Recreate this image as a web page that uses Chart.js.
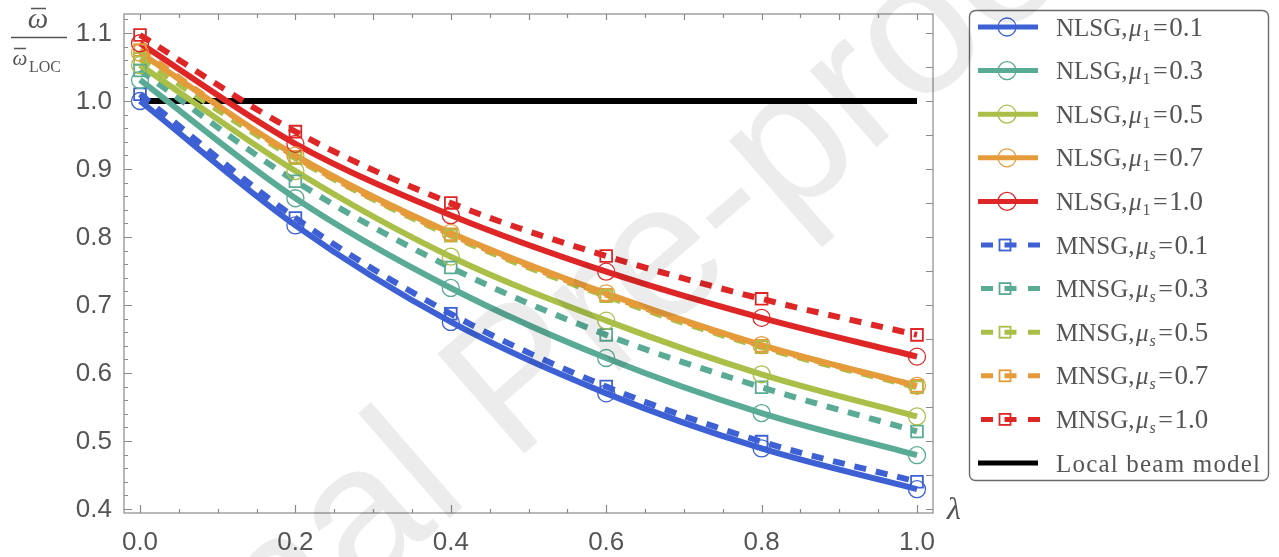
<!DOCTYPE html>
<html>
<head>
<meta charset="utf-8">
<title>Frequency ratio vs lambda</title>
<script src="https://cdn.jsdelivr.net/npm/chart.js@4.4.1/dist/chart.umd.min.js"></script>
<style>
  html, body { margin: 0; padding: 0; background: #fff; }
  #wrap { width: 1279px; height: 557px; position: relative; }
</style>
</head>
<body>
<div id="wrap"><canvas id="chart"></canvas></div>
<script>
// lambda values where the markers sit
const lambdaValues = [0, 0.2, 0.4, 0.6, 0.8, 1.0];

// NLSG, mu_1 = 0.1 .. 1.0 (solid lines, circles)
const nlsg01 = [1.000, 0.817, 0.675, 0.570, 0.489, 0.429];
const nlsg03 = [1.031, 0.857, 0.725, 0.622, 0.541, 0.479];
const nlsg05 = [1.053, 0.897, 0.771, 0.677, 0.598, 0.536];
const nlsg07 = [1.071, 0.920, 0.806, 0.717, 0.641, 0.581];
const nlsg10 = [1.085, 0.937, 0.832, 0.749, 0.681, 0.624];

// MNSG, mu_s = 0.1 .. 1.0 (dashed lines, squares)
const mnsg01 = [1.010, 0.828, 0.687, 0.580, 0.499, 0.440];
const mnsg03 = [1.045, 0.882, 0.755, 0.656, 0.579, 0.514];
const mnsg05 = [1.062, 0.916, 0.802, 0.713, 0.638, 0.579];
const mnsg07 = [1.075, 0.918, 0.804, 0.715, 0.640, 0.581];
const mnsg10 = [1.097, 0.955, 0.850, 0.772, 0.709, 0.656];

// local beam model
const localX = [0, 1];
const localY = [1, 1];

const muValues = ['0.1', '0.3', '0.5', '0.7', '1.0'];
const seriesColors = ['#3d60d4', '#5aab95', '#a9bf48', '#e69b3b', '#df2626'];

const xTicks = [0, 0.2, 0.4, 0.6, 0.8, 1.0];
const yTicks = [0.4, 0.5, 0.6, 0.7, 0.8, 0.9, 1.0, 1.1];

const nlsgSets = [nlsg01, nlsg03, nlsg05, nlsg07, nlsg10];
const mnsgSets = [mnsg01, mnsg03, mnsg05, mnsg07, mnsg10];

const TEXT_GREY = '#555';
const FRAME_GREY = '#8a8a8a';
const SERIF = '"Liberation Serif", "Times New Roman", serif';
const SANS = '"Liberation Sans", Arial, sans-serif';

function toPoints(xs, ys) {
  return xs.map((x, i) => ({ x, y: ys[i] }));
}

const datasets = [];

// markers first so they end up on top of every line
nlsgSets.forEach((ys, i) => {
  datasets.push({
    label: 'NLSG mu1=' + muValues[i] + ' markers',
    data: toPoints(lambdaValues, ys),
    showLine: false,
    pointStyle: 'circle',
    pointRadius: 8.5,
    pointBorderWidth: 1.3,
    pointBorderColor: seriesColors[i],
    pointBackgroundColor: 'rgba(0,0,0,0)'
  });
});
mnsgSets.forEach((ys, i) => {
  datasets.push({
    label: 'MNSG mus=' + muValues[i] + ' markers',
    data: toPoints(lambdaValues, ys),
    showLine: false,
    pointStyle: 'rect',
    pointRadius: 8.3,
    pointBorderWidth: 1.8,
    pointBorderColor: seriesColors[i],
    pointBackgroundColor: 'rgba(0,0,0,0)'
  });
});

// solid curves
nlsgSets.slice().reverse().forEach((ys, k) => {
  const i = nlsgSets.length - 1 - k;
  datasets.push({
    label: 'NLSG mu1=' + muValues[i],
    data: toPoints(lambdaValues, ys),
    showLine: true,
    borderColor: seriesColors[i],
    borderWidth: 6,
    pointRadius: 0,
    cubicInterpolationMode: 'monotone'
  });
});

// dashed curves
mnsgSets.slice().reverse().forEach((ys, k) => {
  const i = mnsgSets.length - 1 - k;
  datasets.push({
    label: 'MNSG mus=' + muValues[i],
    data: toPoints(lambdaValues, ys),
    showLine: true,
    borderColor: seriesColors[i],
    borderWidth: 6,
    borderDash: [12, 10],
    pointRadius: 0,
    cubicInterpolationMode: 'monotone'
  });
});

datasets.push({
  label: 'Local beam model',
  data: toPoints(localX, localY),
  showLine: true,
  borderColor: '#000',
  borderWidth: 6,
  pointRadius: 0
});

// frame, inward tick marks and tick labels, like the Mathematica frame
const framePlugin = {
  id: 'frame',
  afterDatasetsDraw(chart) {
    const { ctx, chartArea: a, scales: { x, y } } = chart;
    ctx.save();
    ctx.strokeStyle = FRAME_GREY;
    ctx.lineWidth = 1.2;
    ctx.strokeRect(a.left, a.top, a.right - a.left, a.bottom - a.top);

    ctx.beginPath();
    // left: major 0.1, minor 0.02
    for (let v = 0.4; v <= 1.1201; v += 0.02) {
      const py = Math.round(y.getPixelForValue(v)) + 0.5;
      const major = yTicks.some(t => Math.abs(t - v) < 1e-6);
      ctx.moveTo(a.left, py);
      ctx.lineTo(a.left + (major ? 8 : 4), py);
    }
    // right: every 0.05
    for (let v = 0.4; v <= 1.1201; v += 0.05) {
      const py = Math.round(y.getPixelForValue(v)) + 0.5;
      ctx.moveTo(a.right, py);
      ctx.lineTo(a.right - 7, py);
    }
    // bottom: major 0.2, minor 0.05
    for (let v = 0; v <= 1.0001; v += 0.05) {
      const px = Math.round(x.getPixelForValue(v)) + 0.5;
      const major = xTicks.some(t => Math.abs(t - v) < 1e-6);
      ctx.moveTo(px, a.bottom);
      ctx.lineTo(px, a.bottom - (major ? 8 : 4));
    }
    // top: every 0.05
    for (let v = 0; v <= 1.0001; v += 0.05) {
      const px = Math.round(x.getPixelForValue(v)) + 0.5;
      const major = Math.abs(Math.round(v * 10) - v * 10) < 1e-6;
      ctx.moveTo(px, a.top);
      ctx.lineTo(px, a.top + (major ? 6 : 4));
    }
    ctx.stroke();

    // tick labels
    ctx.fillStyle = TEXT_GREY;
    ctx.font = '26px ' + SANS;
    ctx.textBaseline = 'middle';
    ctx.textAlign = 'right';
    yTicks.forEach(v => ctx.fillText(v.toFixed(1), a.left - 12, y.getPixelForValue(v) + 1));
    ctx.textAlign = 'center';
    xTicks.forEach(v => ctx.fillText(v.toFixed(1), x.getPixelForValue(v), a.bottom + 30));
    ctx.restore();
  }
};

// y title (fraction) and lambda label
const titlePlugin = {
  id: 'titles',
  afterDraw(chart) {
    const ctx = chart.ctx;
    ctx.save();
    ctx.fillStyle = TEXT_GREY;
    ctx.strokeStyle = TEXT_GREY;
    ctx.lineWidth = 1.3;
    ctx.textBaseline = 'alphabetic';

    ctx.textAlign = 'center';
    ctx.font = 'italic 29px ' + SERIF;
    ctx.fillText('ω', 38, 28);
    ctx.beginPath();
    ctx.moveTo(31, 8.5); ctx.lineTo(46, 8.5);
    ctx.moveTo(11, 37.5); ctx.lineTo(67, 37.5);
    ctx.moveTo(14, 48.5); ctx.lineTo(26, 48.5);
    ctx.stroke();

    ctx.font = 'italic 21px ' + SERIF;
    ctx.fillText('ω', 20, 65);
    ctx.textAlign = 'left';
    ctx.font = '16px ' + SERIF;
    ctx.fillText('LOC', 29, 72);

    ctx.textAlign = 'center';
    ctx.font = 'italic 32px ' + SERIF;
    ctx.fillText('λ', 954, 519);
    ctx.restore();
  }
};

// legend box drawn by hand (needs sub-scripts)
const legendPlugin = {
  id: 'handLegend',
  afterDraw(chart) {
    const ctx = chart.ctx;
    ctx.save();
    ctx.strokeStyle = '#6a6a6a';
    ctx.lineWidth = 1.4;
    ctx.beginPath();
    ctx.roundRect(969.5, 10.5, 299, 470, 6);
    ctx.stroke();

    const rowY = i => 27 + i * 43.6;
    const textX = 1056;

    function label(y, prefix, sub, subItalic, value) {
      let x = textX;
      ctx.fillStyle = TEXT_GREY;
      ctx.textAlign = 'left';
      ctx.textBaseline = 'alphabetic';
      const base = y + 8.5;
      ctx.font = '25px ' + SERIF;
      ctx.fillText(prefix, x, base);
      x += ctx.measureText(prefix).width + 1.5;
      ctx.font = 'italic 25px ' + SERIF;
      ctx.fillText('μ', x, base);
      x += ctx.measureText('μ').width + 1;
      ctx.font = (subItalic ? 'italic ' : '') + '16px ' + SERIF;
      ctx.fillText(sub, x, base + 5);
      x += ctx.measureText(sub).width + 2.5;
      ctx.font = '26px ' + SERIF;
      ctx.fillText('=', x, base);
      x += ctx.measureText('=').width + 1.5;
      ctx.font = '27px ' + SERIF;
      ctx.fillText(value, x, base);
    }

    muValues.forEach((mu, i) => {
      const y = rowY(i);
      ctx.strokeStyle = seriesColors[i];
      ctx.lineWidth = 5;
      ctx.setLineDash([]);
      ctx.beginPath();
      ctx.moveTo(978, y); ctx.lineTo(1038, y);
      ctx.stroke();
      ctx.lineWidth = 1.3;
      ctx.beginPath();
      ctx.arc(1007, y, 9, 0, Math.PI * 2);
      ctx.stroke();
      label(y, 'NLSG,', '1', false, mu);
    });

    muValues.forEach((mu, i) => {
      const y = rowY(i + 5);
      ctx.strokeStyle = seriesColors[i];
      ctx.lineWidth = 5;
      ctx.setLineDash([12, 11.5]);
      ctx.beginPath();
      ctx.moveTo(981, y); ctx.lineTo(1040, y);
      ctx.stroke();
      ctx.setLineDash([]);
      ctx.lineWidth = 1.8;
      ctx.strokeRect(999.5, y - 5.5, 11, 11);
      label(y, 'MNSG,', 's', true, mu);
    });

    const yl = rowY(10);
    ctx.strokeStyle = '#000';
    ctx.lineWidth = 5;
    ctx.beginPath();
    ctx.moveTo(978, yl); ctx.lineTo(1038, yl);
    ctx.stroke();
    ctx.fillStyle = TEXT_GREY;
    ctx.font = '25px ' + SERIF;
    ctx.letterSpacing = '1.2px';
    ctx.fillText('Local beam model', textX, yl + 8.5);
    ctx.letterSpacing = '0px';
    ctx.restore();
  }
};

// faint "Journal Pre-proof" stamp across the figure
const watermarkPlugin = {
  id: 'watermark',
  afterDraw(chart) {
    const ctx = chart.ctx;
    ctx.save();
    ctx.globalCompositeOperation = 'multiply';
    ctx.fillStyle = '#ececec';
    ctx.translate(-38, 872);
    ctx.rotate(-41 * Math.PI / 180);
    ctx.font = '192px ' + SANS;
    ctx.textBaseline = 'middle';
    ctx.textAlign = 'left';
    ctx.fillText('Journal Pre-proof', 0, 0);
    ctx.restore();
  }
};

new Chart(document.getElementById('chart'), {
  type: 'scatter',
  data: { datasets },
  options: {
    responsive: true,
    maintainAspectRatio: false,
    animation: false,
    events: [],
    layout: { padding: { left: 124, right: 346, top: 14, bottom: 44 } },
    plugins: {
      legend: { display: false },
      tooltip: { enabled: false }
    },
    scales: {
      x: { type: 'linear', min: -0.0206, max: 1.0206, display: false },
      y: { type: 'linear', min: 0.394, max: 1.128, display: false }
    }
  },
  plugins: [framePlugin, legendPlugin, titlePlugin, watermarkPlugin]
});
</script>
</body>
</html>
